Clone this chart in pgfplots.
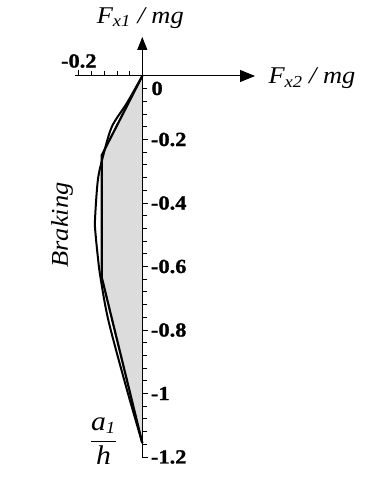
\documentclass[border=0pt]{standalone}
\usepackage{fontspec}
\setmainfont{Liberation Serif}[FakeStretch=1.1]
\newfontfamily\tickfont{Liberation Serif Bold}[FakeStretch=1.12,FakeBold=1.2]
\newcommand\tl[1]{\mbox{\tickfont\fontsize{20}{21}\selectfont #1}}
\usepackage{pgfplots}
\pgfplotsset{compat=1.18}
\usetikzlibrary{arrows.meta}
\definecolor{fillgray}{RGB}{220,220,220}
\begin{document}
\begin{tikzpicture}
\begin{axis}[
  x=317.5pt, y=317.5pt,
  axis lines=middle,
  axis on top=true,
  clip=false,
  xmin=-0.212, xmax=0.355, ymin=-1.2, ymax=0.123,
  axis line style={line width=1pt},
  x axis line style={-{Triangle[length=15pt,width=12pt]}},
  y axis line style={-{Triangle[length=13pt,width=10pt]}},
  xtick={-0.2}, xticklabels={\tl{-0.2}},
  minor xtick={-0.16,-0.12,-0.08,-0.04},
  ytick={-1.2,-1,-0.8,-0.6,-0.4,-0.2},
  yticklabels={\tl{-1.2},\tl{-1},\tl{-0.8},\tl{-0.6},\tl{-0.4},\tl{-0.2}},
  minor ytick={-1.16,-1.12,-1.08,-1.04,-0.96,-0.92,-0.88,-0.84,-0.76,-0.72,-0.68,-0.64,-0.56,-0.52,-0.48,-0.44,-0.36,-0.32,-0.28,-0.24,-0.16,-0.12,-0.08,-0.04},
  tick align=inside,
  major tick length=6pt, minor tick length=4.5pt,
  tick style={black, line width=0.8pt},
  xticklabel style={inner sep=2pt, anchor=south, yshift=6pt},
  yticklabel style={inner sep=2pt, anchor=west, xshift=6.5pt},
]
\addplot[fill=fillgray, draw=none] coordinates {(0,0) (-0.128,-0.25) (-0.128,-0.633) (0,-1.156)} -- cycle;
\addplot[black, line width=2.2pt] coordinates {(0,0) (-0.128,-0.25) (-0.128,-0.633) (0,-1.156)};
\addplot[black, line width=2pt, smooth, tension=0.5] coordinates {
(0,0) (-0.049,-0.086) (-0.096,-0.160) (-0.124,-0.254) (-0.140,-0.328)
(-0.149,-0.454) (-0.147,-0.50) (-0.140,-0.57) (-0.132,-0.633)
(-0.107,-0.769) (-0.051,-0.979) (0,-1.156)};
\coordinate (O) at (axis cs:0,0);
\coordinate (XT) at (axis cs:0.355,0);
\coordinate (YT) at (axis cs:0,0.123);
\end{axis}
\node[anchor=north west, inner sep=0pt] at ([xshift=9pt,yshift=-5.5pt]O) {\tl{0}};
\node[anchor=base, inner sep=0pt, font=\fontsize{24}{26}\selectfont\itshape] at ([xshift=-2pt,yshift=13.7pt]YT) {F\textsubscript{x1} / mg};
\node[anchor=base west, inner sep=0pt, font=\fontsize{24}{26}\selectfont\itshape] at ([xshift=13.3pt,yshift=-7.3pt]XT) {F\textsubscript{x2} / mg};
\node[rotate=90, inner sep=0pt, font=\fontsize{24}{26}\selectfont\itshape] at ([xshift=-80.3pt,yshift=-149pt]O) {Braking};
\node[inner sep=0pt, font=\fontsize{27}{29}\selectfont] at ([xshift=-38.8pt,yshift=-364.7pt]O) {$\displaystyle\frac{\mbox{\itshape a}_{\mbox{\fontsize{17}{17}\selectfont\itshape 1}}}{\mbox{\itshape h}}$};
\pgfresetboundingbox
\path[use as bounding box] ([xshift=-142.3pt,yshift=76pt]O) rectangle ([xshift=236.7pt,yshift=-411pt]O);
\end{tikzpicture}
\end{document}
